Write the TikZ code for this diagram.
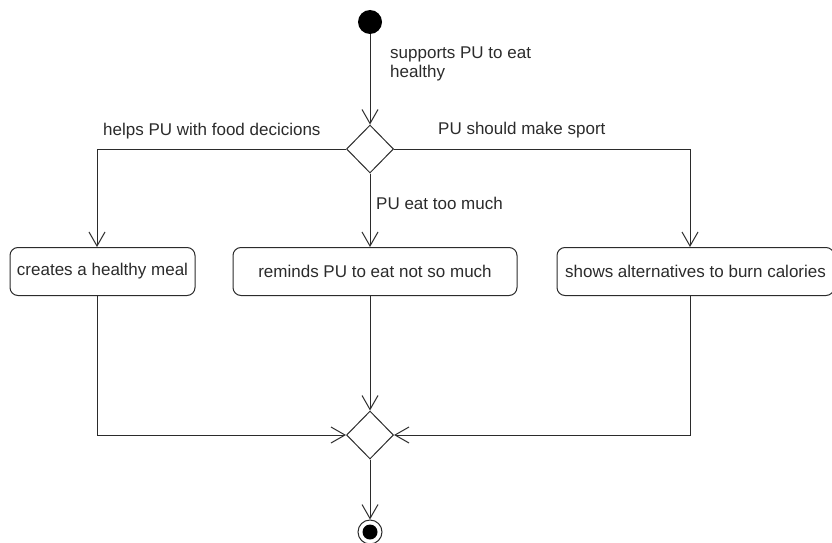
\documentclass[tikz,border=0pt]{standalone}
\usepackage{fontspec}
\setmainfont{Liberation Sans}
\usetikzlibrary{positioning,arrows.meta,shapes.geometric}
\definecolor{ink}{HTML}{2B2B2B}
\tikzset{
  act/.style={draw=ink, rounded corners=8pt, line width=1pt, minimum height=48pt, inner sep=0pt, font=\fontsize{17}{19}\selectfont, text=ink},
  choice/.style={draw=ink, diamond, line width=1pt, minimum width=47pt, minimum height=48pt, inner sep=0pt},
  lbl/.style={font=\fontsize{17}{19}\selectfont, text=ink, inner sep=0pt},
}
\begin{document}
\begin{tikzpicture}[x=1pt, y=-1pt,
  flow/.style={draw=ink, line width=1pt, -{Straight Barb[length=14pt,width=16pt]}}]
\useasboundingbox (0,0) rectangle (832,543);
% start and first choice
\node[circle, fill=black, minimum size=24pt, inner sep=0pt] (start) at (370,22) {};
\node[choice] (split) at (370,149) {};
\draw[flow] (start) -- (split);
\node[lbl, anchor=north west, align=left] (why) at (390,47) {supports PU to eat\\healthy};
% actions
\node[act, minimum width=185pt] (meal) at (102.5,271.5) {creates a healthy meal};
\node[act, minimum width=284pt] (talk) at (375,271.5) {reminds PU to eat not so much};
\node[act, minimum width=277pt] (burn) at (695.5,271.5) {shows alternatives to burn calories};
\coordinate (lx) at (97,0);
\coordinate (rx) at (690,0);
\draw[flow] (split.west) -| (lx |- meal.north);
\draw[flow] (split.south) -- (split.south |- talk.north);
\draw[flow] (split.east) -| (rx |- burn.north);
\node[lbl, anchor=base west] (food) at (103,135) {helps PU with food decicions};
\node[lbl, anchor=base west] (sport) at (438,134) {PU should make sport};
\node[lbl, anchor=base west] (much) at (376,209) {PU eat too much};
% merge and end
\node[choice] (join) at (370,435) {};
\draw[flow] (lx |- meal.south) |- (join.west);
\draw[flow] (join.north |- talk.south) -- (join.north);
\draw[flow] (rx |- burn.south) |- (join.east);
\node[circle, draw=ink, line width=1pt, minimum size=24pt, inner sep=0pt] (stop) at (370,532) {};
\fill[black] (stop.center) circle (7.5pt);
\draw[flow] (join) -- (stop);
\end{tikzpicture}
\end{document}
